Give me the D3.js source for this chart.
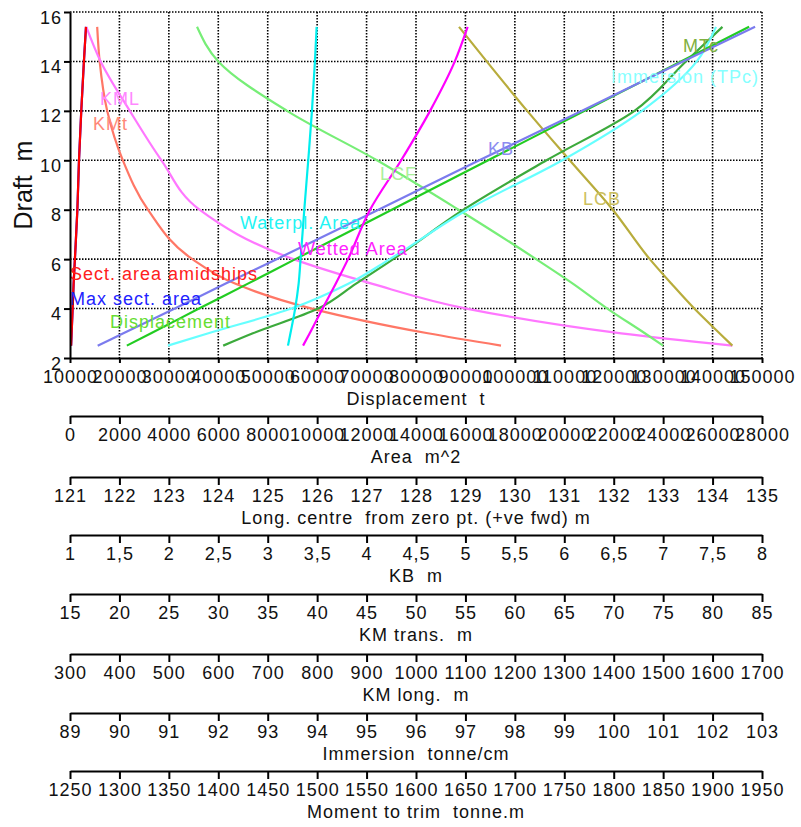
<!DOCTYPE html>
<html>
<head>
<meta charset="utf-8">
<script src="https://cdn.jsdelivr.net/npm/d3@7"></script>
<style>
	body { margin: 0; background: #fff; }
	svg { display: block; font-family: "Liberation Sans", Arial, sans-serif; }
	text { white-space: pre; }
	.axis text { font-size: 18px; letter-spacing: 1px; fill: #111; }
	.axis path, .axis line { stroke: #000; stroke-width: 2; }
	.grid line { stroke: #000; stroke-width: 1.6; stroke-dasharray: 1.5 1.5; }
	.curve { fill: none; stroke-width: 2.2; }
	.label { font-size: 18px; letter-spacing: 1px; }
	.title { font-size: 18px; letter-spacing: 1px; fill: #111; }
</style>
</head>
<body>
<svg></svg>
<script>

// DATA (draft in m, each series in the units of its own axis)

var drafts = [2.5, 3, 4, 5, 6, 8, 10, 12, 14, 15.4]

var displacement   = [21500, 26400, 36100, 45900, 55600, 75100, 94600, 114100, 133600, 147400]
var maxSectArea    = [45, 65, 107, 146, 198, 298, 364, 456, 563, 647]
var sectAreaMid    = [45, 65, 107, 146, 198, 298, 364, 456, 563, 647]
var waterplArea    = [8820, 8920, 9110, 9250, 9330, 9480, 9640, 9790, 9910, 9980]
var wettedArea     = [9430, 9700, 10220, 10750, 11250, 12140, 13400, 14570, 15570, 16090]
var lcf            = [133.0, 132.63, 131.87, 131.18, 130.43, 128.86, 127.21, 125.39, 124.0, 123.57]
var lcb            = [134.4, 134.14, 133.63, 133.17, 132.73, 131.98, 131.11, 130.25, 129.43, 128.87]
var kb             = [1.28, 1.54, 2.06, 2.57, 3.09, 4.12, 5.14, 6.18, 7.2, 7.93]
var kmTrans        = [58.6, 51.2, 39.45, 31.75, 27.38, 22.88, 20.34, 18.76, 18.0, 17.75]
var kmLong         = [1640, 1415, 1102, 912, 752, 562, 485, 421, 362, 333]
var immersion      = [90.98, 91.8, 93.48, 94.63, 95.47, 97.04, 98.96, 100.57, 101.68, 102.07]
var momentTrim     = [1405, 1435, 1501, 1539, 1577, 1648, 1732, 1821, 1873, 1910]

// tick labels
var draftTicks = [2, 4, 6, 8, 10, 12, 14, 16]
var dispTicks  = [10000, 20000, 30000, 40000, 50000, 60000, 70000, 80000, 90000, 100000, 110000, 120000, 130000, 140000, 150000]
var areaTicks  = [0, 2000, 4000, 6000, 8000, 10000, 12000, 14000, 16000, 18000, 20000, 22000, 24000, 26000, 28000]
var longTicks  = [121, 122, 123, 124, 125, 126, 127, 128, 129, 130, 131, 132, 133, 134, 135]
var kbTicks    = [1, 1.5, 2, 2.5, 3, 3.5, 4, 4.5, 5, 5.5, 6, 6.5, 7, 7.5, 8]
var kmtTicks   = [15, 20, 25, 30, 35, 40, 45, 50, 55, 60, 65, 70, 75, 80, 85]
var kmlTicks   = [300, 400, 500, 600, 700, 800, 900, 1000, 1100, 1200, 1300, 1400, 1500, 1600, 1700]
var immTicks   = [89, 90, 91, 92, 93, 94, 95, 96, 97, 98, 99, 100, 101, 102, 103]
var mtcTicks   = [1250, 1300, 1350, 1400, 1450, 1500, 1550, 1600, 1650, 1700, 1750, 1800, 1850, 1900, 1950]

// VIS

var width = 801
var height = 827
var plotL = 70, plotR = 762, plotT = 12, plotB = 358

var svg = d3.select("svg")
	.attr("width", width)
	.attr("height", height)

function lin(ticks) {
	return d3.scaleLinear().domain([ticks[0], ticks[ticks.length - 1]]).range([plotL, plotR])
}

var x     = lin(dispTicks)
var y     = d3.scaleLinear().domain([2, 16]).range([plotB, plotT])
var xArea = lin(areaTicks)
var xLong = lin(longTicks)
var xKb   = lin(kbTicks)
var xKmt  = lin(kmtTicks)
var xKml  = lin(kmlTicks)
var xImm  = lin(immTicks)
var xMtc  = lin(mtcTicks)

// grid

var grid = svg.append("g").attr("class", "grid")

grid.selectAll(".gx").data(dispTicks.slice(1)).enter()
	.append("line")
	.attr("x1", function(d) { return x(d) }).attr("x2", function(d) { return x(d) })
	.attr("y1", y(16)).attr("y2", y(2))

grid.selectAll(".gy").data(draftTicks.slice(1)).enter()
	.append("line")
	.attr("x1", plotL).attr("x2", plotR)
	.attr("y1", function(d) { return y(d) }).attr("y2", function(d) { return y(d) })

// curves

var curves = [
	{ vals: kmTrans,      sc: xKmt,  color: "#ff7766" },
	{ vals: kmLong,       sc: xKml,  color: "#ff77ff" },
	{ vals: lcf,          sc: xLong, color: "#77ee77" },
	{ vals: lcb,          sc: xLong, color: "#b8ac3c" },
	{ vals: momentTrim,   sc: xMtc,  color: "#3caa3c" },
	{ vals: immersion,    sc: xImm,  color: "#66ffff" },
	{ vals: displacement, sc: x,     color: "#22cc22" },
	{ vals: kb,           sc: xKb,   color: "#7b7bee" },
	{ vals: wettedArea,   sc: xArea, color: "#ff00ff" },
	{ vals: waterplArea,  sc: xArea, color: "#00eeee" },
	{ vals: maxSectArea,  sc: xArea, color: "#0000ff" },
	{ vals: sectAreaMid,  sc: xArea, color: "#ff0000" },
]

svg.append("g").selectAll(".curve").data(curves).enter()
	.append("path")
	.attr("class", "curve")
	.attr("stroke", function(c) { return c.color })
	.attr("d", function(c) {
		var line = d3.line()
			.x(function(d) { return c.sc(d.v) })
			.y(function(d) { return y(d.d) })
			.curve(d3.curveMonotoneY)
		return line(drafts.map(function(d, i) { return { d: d, v: c.vals[i] } }))
	})

// curve labels (placed in displacement / draft units)

var labels = [
	{ text: "KML",                  disp: 16070,  draft: 12.24, color: "#ff88ff" },
	{ text: "KMt",                  disp: 14650,  draft: 11.23, color: "#ff8878" },
	{ text: "LCF",                  disp: 72700,  draft: 9.2,   color: "#aaf09a" },
	{ text: "KB",                   disp: 94560,  draft: 10.21, color: "#8c8cf0" },
	{ text: "LCB",                  disp: 113800, draft: 8.19,  color: "#ccc060" },
	{ text: "MTc",                  disp: 134020, draft: 14.4,  color: "#80b040" },
	{ text: "Immersion (TPc)",      disp: 119450, draft: 13.13, color: "#88ffff" },
	{ text: "Waterpl. Area",        disp: 44390,  draft: 7.22,  color: "#22f4f4" },
	{ text: "Wetted Area",          disp: 56130,  draft: 6.17,  color: "#ff22ff" },
	{ text: "Sect. area amidships", disp: 10000,  draft: 5.16,  color: "#ff2020" },
	{ text: "Max sect. area",       disp: 10000,  draft: 4.14,  color: "#2222ff" },
	{ text: "Displacement",         disp: 18090,  draft: 3.21,  color: "#66dd33" },
]

svg.append("g").selectAll(".label").data(labels).enter()
	.append("text")
	.attr("class", "label")
	.attr("x", function(d) { return x(d.disp) })
	.attr("y", function(d) { return y(d.draft) })
	.attr("fill", function(d) { return d.color })
	.text(function(d) { return d.text })

// main axes

var yAxis = svg.append("g")
	.attr("class", "axis")
	.attr("transform", "translate(" + plotL + ",0)")
	.call(d3.axisLeft(y).tickValues(draftTicks).tickSize(6).tickSizeOuter(0))

yAxis.selectAll("text").attr("x", -8).attr("dy", 11)

svg.append("text")
	.attr("transform", "translate(32," + ((plotT + plotB) / 2) + ") rotate(-90)")
	.attr("text-anchor", "middle")
	.style("font-size", "25px")
	.style("fill", "#111")
	.text("Draft  m")

var axes = [
	{ sc: x,     ticks: dispTicks, y0: plotB, title: "Displacement  t", fmt: null },
	{ sc: xArea, ticks: areaTicks, y0: 416, title: "Area  m^2", fmt: null },
	{ sc: xLong, ticks: longTicks, y0: 477, title: "Long. centre  from zero pt. (+ve fwd) m", fmt: null },
	{ sc: xKb,   ticks: kbTicks,   y0: 535, title: "KB  m", fmt: function(d) { return String(d).replace(".", ",") } },
	{ sc: xKmt,  ticks: kmtTicks,  y0: 594, title: "KM trans.  m", fmt: null },
	{ sc: xKml,  ticks: kmlTicks,  y0: 654, title: "KM long.  m", fmt: null },
	{ sc: xImm,  ticks: immTicks,  y0: 713, title: "Immersion  tonne/cm", fmt: null },
	{ sc: xMtc,  ticks: mtcTicks,  y0: 771, title: "Moment to trim  tonne.m", fmt: null },
]

axes.forEach(function(a, i) {

	var ax = d3.axisBottom(a.sc)
		.tickValues(a.ticks)
		.tickSize(i == 0 ? 5 : 8)
		.tickSizeOuter(0)
		.tickFormat(a.fmt || function(d) { return d })

	var g = svg.append("g")
		.attr("class", "axis")
		.attr("transform", "translate(0," + a.y0 + ")")
		.call(ax)

	g.selectAll("text").attr("y", 25).attr("dy", 0)

	svg.append("text")
		.attr("class", "title")
		.attr("x", (plotL + plotR) / 2)
		.attr("y", a.y0 + 47)
		.attr("text-anchor", "middle")
		.text(a.title)
})

</script>
</body>
</html>
